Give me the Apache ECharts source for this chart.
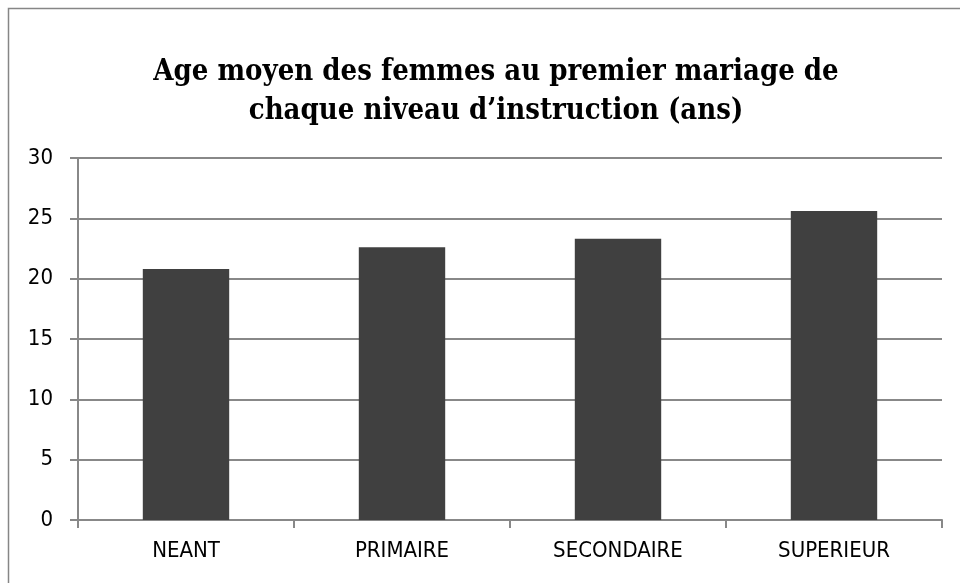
<!DOCTYPE html>
<html>
<head>
<meta charset="utf-8">
<script src="https://cdn.jsdelivr.net/npm/echarts@6/dist/echarts.min.js"></script>
<style>
html,body{margin:0;padding:0;background:#fff;}
#chart{width:960px;height:583px;}
</style>
</head>
<body>
<div id="chart"></div>
<script>
var titleText = "Age moyen des femmes au premier mariage de\nchaque niveau d\u2019instruction (ans)";
var categories = ["NEANT", "PRIMAIRE", "SECONDAIRE", "SUPERIEUR"];
var ages = [20.8, 22.6, 23.3, 25.6];
var yTicks = [0, 5, 10, 15, 20, 25, 30];

var chart = echarts.init(document.getElementById('chart'), null, {renderer: 'canvas'});
chart.setOption({
  backgroundColor: '#fff',
  animation: false,
  title: {
    text: titleText,
    left: 496,
    textAlign: 'center',
    top: 53,
    padding: 0,
    textStyle: {
      fontFamily: 'DejaVu Serif Condensed',
      fontWeight: 'bold',
      fontSize: 29,
      lineHeight: 39,
      color: '#000'
    }
  },
  graphic: [{
    type: 'rect',
    shape: {x: 8.5, y: 8.5, width: 1000, height: 1000},
    style: {fill: 'none', stroke: '#868686', lineWidth: 1.5},
    silent: true
  }],
  grid: {left: 78, right: 18, top: 158, bottom: 63, containLabel: false},
  xAxis: {
    type: 'category',
    data: categories,
    axisLine: {lineStyle: {color: '#888', width: 2}},
    axisTick: {show: true, length: 8, lineStyle: {color: '#888', width: 2}},
    axisLabel: {color: '#000', fontFamily: 'DejaVu Sans Condensed', fontSize: 22, margin: 20}
  },
  yAxis: {
    type: 'value',
    min: yTicks[0],
    max: yTicks[yTicks.length - 1],
    interval: 5,
    axisLine: {show: true, lineStyle: {color: '#888', width: 2}},
    axisTick: {show: true, length: 8, lineStyle: {color: '#888', width: 2}},
    splitLine: {lineStyle: {color: '#888', width: 2}},
    axisLabel: {color: '#000', fontFamily: 'DejaVu Sans Condensed', fontSize: 22, margin: 25}
  },
  series: [{
    type: 'bar',
    data: ages,
    barWidth: '40%',
    itemStyle: {color: '#404040'}
  }]
});
</script>
</body>
</html>
